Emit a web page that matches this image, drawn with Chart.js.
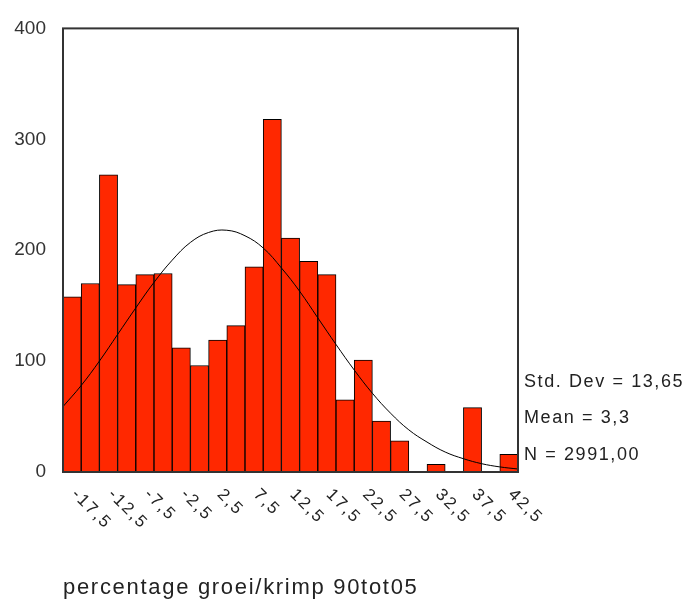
<!DOCTYPE html>
<html>
<head>
<meta charset="utf-8">
<script src="https://cdn.jsdelivr.net/npm/chart.js@4"></script>
<style>
  body { margin: 0; background: #fff; }
  canvas { display: block; }
</style>
</head>
<body>
<canvas id="histogram" width="693" height="603"></canvas>
<script>
// bin centres (width 2,5)
const bins = [-17.5, -15, -12.5, -10, -7.5, -5, -2.5, 0, 2.5, 5, 7.5, 10, 12.5, 15, 17.5, 20, 22.5, 25, 27.5, 30, 32.5, 35, 37.5, 40, 42.5];
const counts = [158, 170, 268, 169, 178, 179, 112, 96, 119, 132, 185, 318, 211, 190, 178, 65, 101, 46, 28, 0, 7, 0, 58, 0, 16];

const curveX = [-18.75, -16.25, -13.75, -11.25, -8.75, -6.25, -3.75, -1.25, 1.25, 3.75, 6.25, 8.75, 11.25, 13.75, 16.25, 18.75, 21.25, 23.75, 26.25, 28.75, 31.25, 33.75, 36.25, 38.75, 41.25, 43.75];
const curveY = [59, 78, 100, 124, 148, 171, 191, 207, 216, 218, 213, 202, 184, 163, 139, 115, 92, 71, 53, 38, 27, 18, 12, 7.5, 4.6, 2.7];

const tickLabels = ['-17,5', '-12,5', '-7,5', '-2,5', '2,5', '7,5', '12,5', '17,5', '22,5', '27,5', '32,5', '37,5', '42,5'];
const yTicks = [0, 100, 200, 300, 400];
const stats = ['Std. Dev = 13,65', 'Mean = 3,3', 'N = 2991,00'];
const xTitle = 'percentage groei/krimp 90tot05';

const txtColor = '#222';

// frame, rotated x labels, stats and axis title
const extras = {
    id: 'extras',
    afterDraw(chart) {
        const ctx = chart.ctx;
        const a = chart.chartArea;
        const xs = chart.scales.x;
        ctx.save();
        ctx.strokeStyle = '#333';
        ctx.lineWidth = 2;
        ctx.strokeRect(a.left, a.top, a.right - a.left, a.bottom - a.top);

        ctx.fillStyle = txtColor;
        ctx.font = '17px Arial, "Liberation Sans", sans-serif';
        ctx.letterSpacing = '2px';
        ctx.textAlign = 'left';
        ctx.textBaseline = 'middle';
        tickLabels.forEach(function(t, i) {
            const px = xs.getPixelForValue(i * 2);
            ctx.save();
            ctx.translate(px + 2, a.bottom + 20);
            ctx.rotate(Math.PI / 4);
            ctx.fillText(t, 0, 0);
            ctx.restore();
        });

        ctx.font = '18px Arial, "Liberation Sans", sans-serif';
        ctx.letterSpacing = '1.6px';
        const sy = [382, 418, 455];
        stats.forEach(function(s, i) {
            ctx.fillText(s, a.right + 6, sy[i]);
        });

        ctx.font = '22px Arial, "Liberation Sans", sans-serif';
        ctx.letterSpacing = '1.7px';
        ctx.fillText(xTitle, a.left, 588);
        ctx.restore();
    }
};

const ctx = document.getElementById('histogram').getContext('2d');
const chart = new Chart(ctx, {
    type: 'bar',
    data: {
        labels: bins,
        datasets: [{
            type: 'line',
            data: curveX.map((x, i) => ({ x: x, y: curveY[i] })),
            xAxisID: 'xn',
            borderColor: '#000',
            borderWidth: 1,
            pointRadius: 0,
            tension: 0.4,
            fill: false,
            order: 0
        }, {
            type: 'bar',
            data: counts,
            xAxisID: 'x',
            backgroundColor: '#ff2800',
            borderColor: '#000',
            borderWidth: 1,
            borderSkipped: false,
            grouped: false,
            barPercentage: 1,
            categoryPercentage: 1,
            order: 1
        }]
    },
    options: {
        responsive: false,
        animation: false,
        devicePixelRatio: 1,
        layout: { padding: { left: 0, top: 22, right: 175, bottom: 131 } },
        plugins: { legend: { display: false }, tooltip: { enabled: false } },
        scales: {
            x: { type: 'category', display: false, offset: true },
            xn: { type: 'linear', display: false, offset: false, min: -18.75, max: 43.75 },
            y: {
                min: 0,
                max: 400,
                afterFit: function(s) { s.width = 63; },
                afterBuildTicks: function(s) { s.ticks = yTicks.map(v => ({ value: v })); },
                grid: { display: false, drawTicks: false },
                border: { display: false },
                ticks: {
                    padding: 17,
                    color: '#333',
                    font: { family: 'Arial, "Liberation Sans", sans-serif', size: 19 }
                }
            }
        }
    },
    plugins: [extras]
});
</script>
</body>
</html>
